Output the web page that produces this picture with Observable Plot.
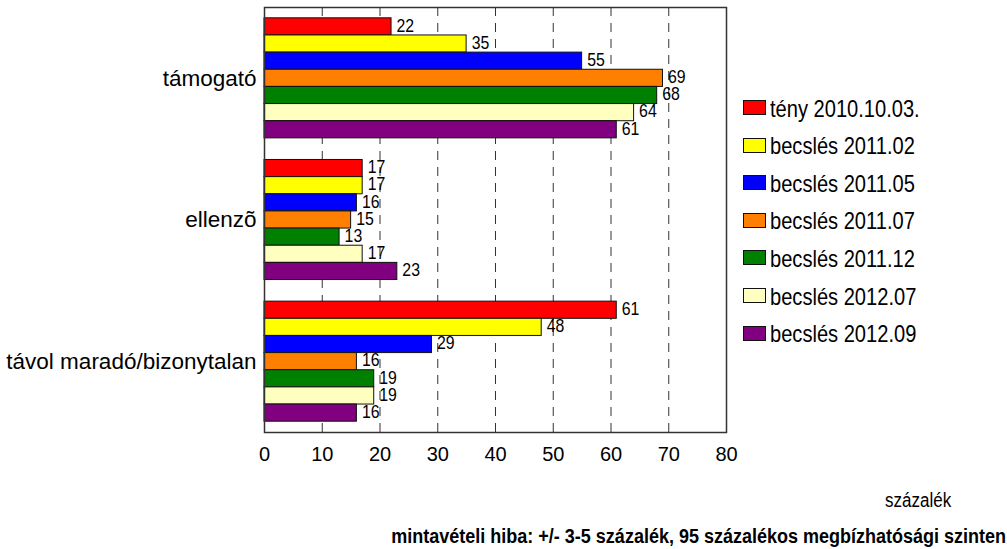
<!DOCTYPE html>
<html>
<head>
<meta charset="utf-8">
<script src="https://cdn.jsdelivr.net/npm/d3@7"></script>
<script src="https://cdn.jsdelivr.net/npm/@observablehq/plot@0.6"></script>
<style>
  html, body { margin: 0; padding: 0; background: #fff; }
  #wrap { position: relative; width: 1007px; height: 549px; overflow: hidden; font-family: "Liberation Sans", Arial, sans-serif; color: #000; }
  #wrap svg { position: absolute; left: 0; top: 0; }
  .leg-row { position: absolute; left: 743px; height: 16px; white-space: nowrap; }
  .leg-sw { position: absolute; left: 0; top: 0; width: 21px; height: 13px; border: 1px solid #111; }
  .leg-tx { position: absolute; left: 27px; top: -3.5px; font-size: 24.5px; line-height: 24px; transform: scaleX(0.82); transform-origin: left center; }
  .cap { position: absolute; white-space: nowrap; }
</style>
</head>
<body>
<div id="wrap"></div>
<script>
const categories = ["támogató", "ellenzõ", "távol maradó/bizonytalan"];
const series = ["tény 2010.10.03.", "becslés 2011.02", "becslés 2011.05", "becslés 2011.07", "becslés 2011.12", "becslés 2012.07", "becslés 2012.09"];
const colors = ["#ff0000", "#ffff00", "#0000ff", "#ff8000", "#008000", "#ffffc0", "#800080"];
const tenyValues = [22, 17, 61];
const becsles201102 = [35, 17, 48];
const becsles201105 = [55, 16, 29];
const becsles201107 = [69, 15, 16];
const becsles201112 = [68, 13, 19];
const becsles201207 = [64, 17, 19];
const becsles201209 = [61, 23, 16];
const xTicks = [0, 10, 20, 30, 40, 50, 60, 70, 80];
const gridTicks = [10, 20, 30, 40, 50, 60, 70];
const unitLabel = "százalék";
const footnote = "mintavételi hiba: +/- 3-5 százalék, 95 százalékos megbízhatósági szinten";

const seriesValues = [tenyValues, becsles201102, becsles201105, becsles201107, becsles201112, becsles201207, becsles201209];

// layout of bands on a linear y scale
const GROUP = 8.26;               // band units per category (7 bars + padding)
const PAD = (GROUP - series.length) / 2;

const rows = [];
categories.forEach((cat, ci) => {
  series.forEach((s, si) => {
    rows.push({category: cat, ci, series: s, si, value: seriesValues[si][ci]});
  });
});
const barTop = d => d.ci * GROUP + PAD + d.si;

const chart = Plot.plot({
  width: 1007,
  height: 549,
  marginLeft: 264,
  marginRight: 281,
  marginTop: 7,
  marginBottom: 117,
  style: {fontFamily: "'Liberation Sans', Arial, sans-serif", fontSize: "20px", background: "transparent", color: "#000"},
  x: {domain: [0, 80]},
  y: {type: "linear", domain: [0, categories.length * GROUP], reverse: true, axis: null},
  color: {domain: series, range: colors},
  marks: [
    Plot.ruleX(gridTicks, {stroke: "#333", strokeWidth: 1, strokeDasharray: "9,7"}),
    Plot.rect(rows, {
      x1: 0, x2: "value",
      y1: barTop, y2: d => barTop(d) + 1,
      fill: "series", stroke: "#111", strokeWidth: 1
    }),
    Plot.text(rows, {
      x: "value", y: d => barTop(d) + 0.5, text: d => String(d.value),
      textAnchor: "start", dx: 5, dy: -1, fontSize: 18, fill: "#000", className: "vlabel"
    }),
    Plot.text(categories, {
      x: 0, y: (d, i) => i * GROUP + GROUP / 2, text: d => d,
      textAnchor: "end", dx: -8, fontSize: 22.5, fill: "#000"
    }),
    Plot.axisX(xTicks, {tickSize: 0, tickPadding: 14, fontSize: 20, label: null, tickFormat: d => String(d)}),
    Plot.frame({stroke: "#333", strokeWidth: 1.5})
  ]
});

const wrap = document.getElementById("wrap");
wrap.appendChild(chart);

// slightly condensed value labels, as in the reference
d3.select(chart).selectAll("g.vlabel text").each(function () {
  const len = this.getComputedTextLength();
  this.setAttribute("textLength", (len * 0.88).toFixed(2));
  this.setAttribute("lengthAdjust", "spacingAndGlyphs");
});

// legend
series.forEach((s, i) => {
  const row = document.createElement("div");
  row.className = "leg-row";
  row.style.top = (100 + i * 37.6) + "px";
  const sw = document.createElement("div");
  sw.className = "leg-sw";
  sw.style.background = colors[i];
  const tx = document.createElement("div");
  tx.className = "leg-tx";
  tx.textContent = s;
  row.appendChild(sw);
  row.appendChild(tx);
  wrap.appendChild(row);
});

const u = document.createElement("div");
u.className = "cap";
u.style.cssText += "left:885px; top:490px; font-size:20px; line-height:20px; transform:scaleX(0.85); transform-origin:left center;";
u.textContent = unitLabel;
wrap.appendChild(u);

const f = document.createElement("div");
f.className = "cap";
f.style.cssText += "right:1px; top:526px; font-size:20px; line-height:20px; font-weight:bold; transform:scaleX(0.9); transform-origin:right center;";
f.textContent = footnote;
wrap.appendChild(f);
</script>
</body>
</html>
